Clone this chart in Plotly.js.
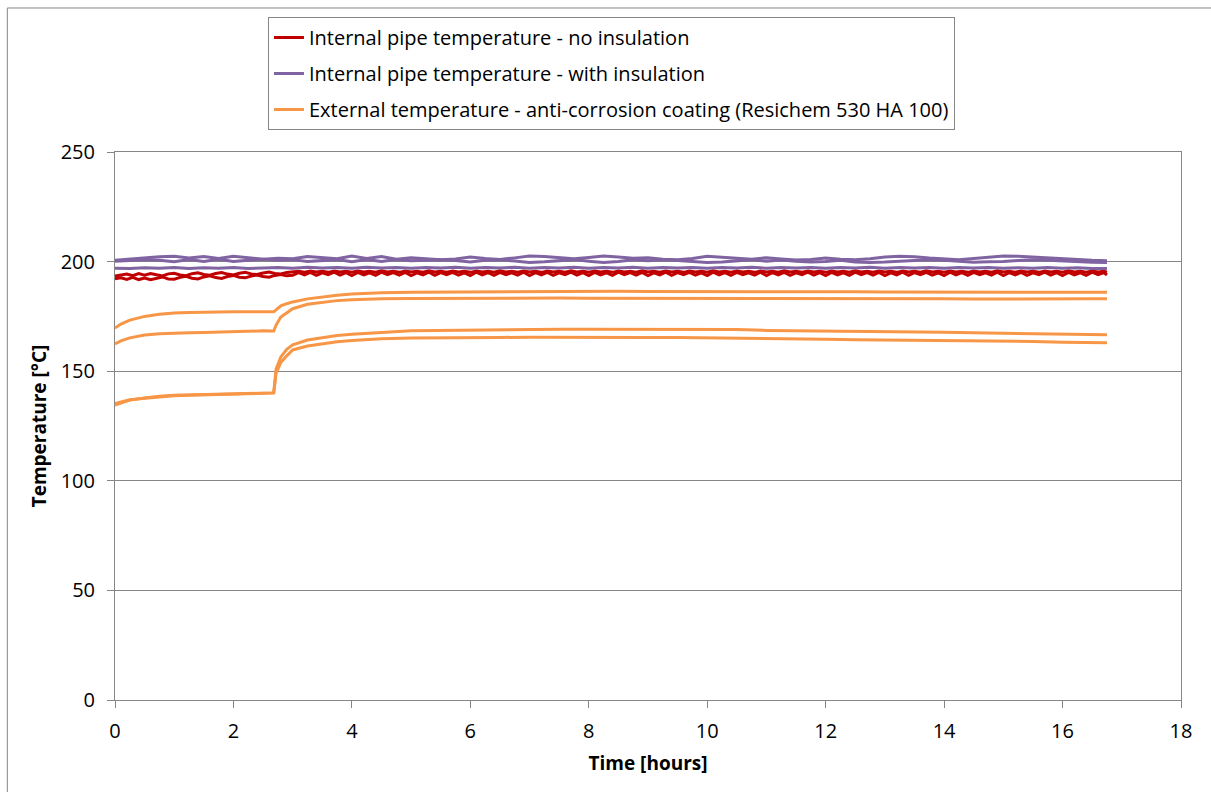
<!DOCTYPE html>
<html>
<head>
<meta charset="utf-8">
<script src="https://cdn.plot.ly/plotly-3.0.1.min.js"></script>
<style>html,body{margin:0;padding:0;background:#fff;}#chart{width:1211px;height:792px;}</style>
</head>
<body>
<div id="chart"></div>
<script>
// ---------- data (hours, °C) ----------
const legendLabels = [
  "Internal pipe temperature - no insulation",
  "Internal pipe temperature - with insulation",
  "External temperature - anti-corrosion coating (Resichem 530 HA 100)"
];

const timeRed = [0,0.1,0.2,0.3,0.4,0.5,0.6,0.7,0.8,0.9,
1,1.1,1.2,1.3,1.4,1.5,1.6,1.7,1.8,1.9,
2,2.1,2.2,2.3,2.4,2.5,2.6,2.7,2.8,2.9,
3,3.1,3.2,3.3,3.4,3.5,3.6,3.7,3.8,3.9,
4,4.1,4.2,4.3,4.4,4.5,4.6,4.7,4.8,4.9,
5,5.1,5.2,5.3,5.4,5.5,5.6,5.7,5.8,5.9,
6,6.1,6.2,6.3,6.4,6.5,6.6,6.7,6.8,6.9,
7,7.1,7.2,7.3,7.4,7.5,7.6,7.7,7.8,7.9,
8,8.1,8.2,8.3,8.4,8.5,8.6,8.7,8.8,8.9,
9,9.1,9.2,9.3,9.4,9.5,9.6,9.7,9.8,9.9,
10,10.1,10.2,10.3,10.4,10.5,10.6,10.7,10.8,10.9,
11,11.1,11.2,11.3,11.4,11.5,11.6,11.7,11.8,11.9,
12,12.1,12.2,12.3,12.4,12.5,12.6,12.7,12.8,12.9,
13,13.1,13.2,13.3,13.4,13.5,13.6,13.7,13.8,13.9,
14,14.1,14.2,14.3,14.4,14.5,14.6,14.7,14.8,14.9,
15,15.1,15.2,15.3,15.4,15.5,15.6,15.7,15.8,15.9,
16,16.1,16.2,16.3,16.4,16.5,16.6,16.7,16.75];

const redNoInsulation1 = [193.4,193.9,194.3,193.6,194.5,193.8,194.6,194.0,193.5,194.4,
194.7,193.9,193.6,194.5,194.9,194.1,193.8,194.6,195.0,194.3,
193.9,194.7,195.1,194.4,194.1,194.8,195.2,194.6,194.4,195.0,195.4,
195.6,195.2,195.7,195.3,195.6,195.1,195.7,195.3,195.6,195.2,
195.7,195.3,195.6,195.2,195.8,195.3,195.6,195.1,195.7,195.3,
195.6,195.2,195.8,195.3,195.6,195.2,195.7,195.3,195.6,195.1,
195.7,195.3,195.6,195.2,195.8,195.3,195.6,195.2,195.7,195.3,
195.6,195.1,195.7,195.3,195.6,195.2,195.8,195.3,195.6,195.2,
195.7,195.3,195.6,195.1,195.7,195.3,195.6,195.2,195.8,195.3,
195.6,195.2,195.7,195.3,195.6,195.1,195.7,195.3,195.6,195.2,
195.8,195.3,195.6,195.2,195.7,195.3,195.6,195.1,195.7,195.3,
195.6,195.2,195.8,195.3,195.6,195.2,195.7,195.3,195.6,195.1,
195.7,195.3,195.6,195.2,195.8,195.3,195.6,195.2,195.7,195.3,
195.6,195.1,195.7,195.3,195.6,195.2,195.8,195.3,195.6,195.2,
195.7,195.3,195.6,195.1,195.7,195.3,195.6,195.2,195.8,195.3,
195.6,195.2,195.7,195.3,195.6,195.1,195.7,195.3,195.6,195.2,
195.8,195.3,195.6,195.2,195.7,195.3,195.6,195.2];

const redNoInsulation2 = [192.2,192.6,191.9,192.8,191.8,192.5,191.7,192.4,193.0,192.1,
192.0,192.8,193.3,192.4,192.1,193.0,193.5,192.7,192.3,193.2,
193.7,192.9,192.6,193.4,193.9,193.2,192.9,193.7,194.1,193.5,193.8,
195.0,193.9,195.1,193.7,194.9,194.0,195.2,193.8,195.0,193.6,
195.1,193.9,194.9,193.7,195.2,194.0,195.0,193.8,195.1,193.6,
194.9,193.9,195.2,193.7,195.0,194.0,195.1,193.8,194.9,193.6,
195.2,193.9,195.0,193.7,195.1,194.0,194.9,193.8,195.2,193.6,
195.0,193.9,195.1,193.7,194.9,194.0,195.2,193.8,195.0,193.6,
195.1,193.9,194.9,193.7,195.2,194.0,195.0,193.8,195.1,193.6,
194.9,193.9,195.2,193.7,195.0,194.0,195.1,193.8,194.9,193.6,
195.2,193.9,195.0,193.7,195.1,194.0,194.9,193.8,195.2,193.6,
195.0,193.9,195.1,193.7,194.9,194.0,195.2,193.8,195.0,193.6,
195.1,193.9,194.9,193.7,195.2,194.0,195.0,193.8,195.1,193.6,
194.9,193.9,195.2,193.7,195.0,194.0,195.1,193.8,194.9,193.6,
195.2,193.9,195.0,193.7,195.1,194.0,194.9,193.8,195.2,193.6,
195.0,193.9,195.1,193.7,194.9,194.0,195.2,193.8,195.0,193.6,
195.1,193.9,194.9,193.7,195.2,194.0,195.0,193.9];

const timePurple = [0,0.25,0.5,0.75,1,1.25,1.5,1.75,2,2.25,2.5,2.75,3,3.25,3.5,3.75,
4,4.25,4.5,4.75,5,5.25,5.5,5.75,6,6.25,6.5,6.75,7,7.25,7.5,7.75,
8,8.25,8.5,8.75,9,9.25,9.5,9.75,10,10.25,10.5,10.75,11,11.25,11.5,11.75,
12,12.25,12.5,12.75,13,13.25,13.5,13.75,14,14.25,14.5,14.75,15,15.25,15.5,15.75,
16,16.25,16.5,16.75];

const purpleInsulated1 = [200.6,201.2,201.8,202.2, 202.4,201.6,202.3,201.4, 202.4,201.8,201.1,201.5,
201.3,202.3,201.9,201.3, 202.5,201.4,202.3,201.1, 201.8,201.3,200.9,201.2,
202.1,201.4,201.0,201.7, 202.5,202.3,201.8,201.3, 201.9,202.5,202.1,201.5,
201.8,201.1,200.9,201.4, 202.4,202.1,201.5,201.1, 201.8,201.2,200.7,201.0,
201.6,201.1,200.8,201.3, 202.1,202.4,202.2,201.6, 201.1,200.9,201.4,202.0,
202.5,202.4,202.0,201.5, 201.1,200.8,200.6,200.4];

const purpleInsulated2 = [200.2,200.6,200.9,200.6, 199.9,200.9,200.1,201.1, 200.0,200.6,201.1,200.6,
200.9,200.0,200.3,200.9, 199.9,200.9,200.0,200.9, 200.4,200.8,200.9,200.5,
199.8,200.6,200.8,200.3, 199.6,199.9,200.5,200.9, 200.2,199.6,200.0,200.8,
200.4,200.9,200.5,199.9, 199.6,199.8,200.5,200.9, 200.2,200.7,200.2,199.8,
200.0,200.6,199.8,199.6, 199.8,200.1,200.5,200.9, 200.6,200.0,199.7,199.9,
200.0,200.5,200.9,200.6, 200.2,199.9,199.7,199.6];

const purpleInsulated3 = [197.0,196.8,197.2,197.0, 197.3,196.9,197.2,197.0, 197.3,196.9,197.1,197.3,
197.0,197.4,197.1,197.3, 197.0,197.4,197.1,197.3, 197.0,197.3,197.1,197.4,
197.0,197.3,197.1,197.4, 197.0,197.3,197.1,197.4, 197.0,197.3,197.1,197.4,
197.0,197.3,197.1,197.3, 197.0,197.3,197.1,197.4, 197.0,197.3,197.1,197.3,
197.0,197.3,197.1,197.4, 197.0,197.3,197.1,197.3, 197.0,197.3,197.1,197.3,
197.0,197.2,197.0,197.3, 197.0,197.2,196.9,196.8];

const timeOrange = [0,0.1,0.25,0.5,0.75,1,1.25,1.5,1.75,2,2.25,2.5,2.68,2.72,2.8,2.9,
3,3.25,3.5,3.75,4,4.25,4.5,5,5.5,6,6.5,7,7.5,8,8.5,9,9.5,10,10.5,11,11.5,
12,12.5,13,13.5,14,14.5,15,15.5,16,16.5,16.75];

const orangeExternal1 = [169.7,171.5,173.3,175.0,176.0,176.6,176.8,177.0,177.0,177.1,177.1,177.1,177.1,178.0,179.8,180.8,
181.6,183.0,184.0,184.7,185.2,185.6,185.8,186.0,186.1,186.3,186.4,186.5,186.5,186.5,186.5,186.4,186.4,186.4,186.5,186.4,186.3,
186.2,186.2,186.1,186.1,186.1,186.1,186.1,186.0,186.0,186.0,186.0];

const orangeExternal2 = [162.4,163.8,165.2,166.5,167.1,167.4,167.5,167.6,167.8,168.2,168.4,168.4,168.3,171.0,174.7,176.8,
178.5,180.5,181.5,182.2,182.6,182.9,183.1,183.2,183.3,183.4,183.4,183.4,183.4,183.3,183.3,183.3,183.3,183.3,183.3,183.3,183.3,
183.2,183.2,183.2,183.1,183.0,182.9,183.0,183.0,182.9,183.0,183.0];

const orangeExternal3 = [134.6,135.5,136.8,137.8,138.6,139.0,139.2,139.4,139.6,139.8,140.0,140.1,140.1,151.0,156.5,160.0,
162.0,164.2,165.4,166.3,166.9,167.4,167.7,168.4,168.6,168.8,169.0,169.1,169.1,169.1,169.1,169.1,169.1,169.1,169.0,168.6,168.5,
168.4,168.0,168.0,168.0,167.8,167.5,167.3,167.0,166.7,166.6,166.6];

const orangeExternal4 = [135.2,135.8,137.0,137.7,138.4,138.8,139.0,139.2,139.5,139.7,139.8,140.0,140.1,149.0,154.0,157.0,
159.7,161.5,162.6,163.4,164.0,164.5,164.8,165.1,165.3,165.4,165.4,165.5,165.4,165.4,165.4,165.4,165.4,165.3,165.1,165.0,164.8,
164.6,164.3,164.2,164.2,164.2,164.1,164.0,163.6,163.2,163.0,163.0];

const xTickVals = [0,2,4,6,8,10,12,14,16,18];
const yTickVals = [0,50,100,150,200,250];

// ---------- styling ----------
const RED = '#C00000', PURPLE = '#8064A2', ORANGE = '#F79646';
const GRID = '#868686';
const FONT = 'Open Sans, Noto Sans, sans-serif';

function line(x, y, color, group, name, show) {
  return {
    type: 'scatter', mode: 'lines', x: x, y: y,
    name: name, legendgroup: group, showlegend: show,
    line: {color: color, width: 3},
    hoverinfo: 'x+y+name'
  };
}

const data = [
  line(timeRed, redNoInsulation1, RED, 'g1', legendLabels[0], true),
  line(timeRed, redNoInsulation2, RED, 'g1', legendLabels[0], false),
  line(timePurple, purpleInsulated1, PURPLE, 'g2', legendLabels[1], true),
  line(timePurple, purpleInsulated2, PURPLE, 'g2', legendLabels[1], false),
  line(timePurple, purpleInsulated3, PURPLE, 'g2', legendLabels[1], false),
  line(timeOrange, orangeExternal1, ORANGE, 'g3', legendLabels[2], true),
  line(timeOrange, orangeExternal2, ORANGE, 'g3', legendLabels[2], false),
  line(timeOrange, orangeExternal3, ORANGE, 'g3', legendLabels[2], false),
  line(timeOrange, orangeExternal4, ORANGE, 'g3', legendLabels[2], false)
];

const layout = {
  width: 1211, height: 792,
  margin: {l: 115, r: 30, t: 152, b: 92, pad: 0},
  paper_bgcolor: '#ffffff', plot_bgcolor: '#ffffff',
  font: {family: FONT, color: '#000000', size: 20},
  showlegend: true,
  legend: {
    x: 0.1435, y: 1.2464, xanchor: 'left', yanchor: 'top',
    bgcolor: '#ffffff', bordercolor: GRID, borderwidth: 1,
    font: {family: FONT, size: 20, color: '#000000'},
    traceorder: 'grouped', tracegroupgap: 7,
    itemwidth: 30
  },
  xaxis: {
    range: [0, 18], tickmode: 'array', tickvals: xTickVals,
    ticks: 'outside', ticklen: 7, tickcolor: GRID, tickwidth: 1,
    showline: true, linecolor: GRID, linewidth: 1, mirror: true,
    showgrid: false, zeroline: false,
    tickfont: {family: FONT, size: 20},
    ticklabelstandoff: 6,
    title: {text: '<b>Time [hours]</b>', font: {family: FONT, size: 19}, standoff: 13}
  },
  yaxis: {
    range: [0, 250], tickmode: 'array', tickvals: yTickVals,
    ticks: 'outside', ticklen: 7, tickcolor: GRID, tickwidth: 1,
    showline: true, linecolor: GRID, linewidth: 1, mirror: true,
    showgrid: true, gridcolor: GRID, gridwidth: 1, zeroline: false,
    tickfont: {family: FONT, size: 20},
    ticklabelstandoff: 8,
    title: {text: '<b>Temperature [°C]</b>', font: {family: FONT, size: 19}, standoff: 9}
  },
  shapes: [{
    type: 'rect', xref: 'paper', yref: 'paper',
    x0: -0.1010, x1: 1.04, y0: -0.2, y1: 1.2628,
    line: {color: GRID, width: 1}, fillcolor: 'rgba(0,0,0,0)', layer: 'below'
  }]
};

Plotly.newPlot('chart', data, layout, {displayModeBar: false});
</script>
</body>
</html>
